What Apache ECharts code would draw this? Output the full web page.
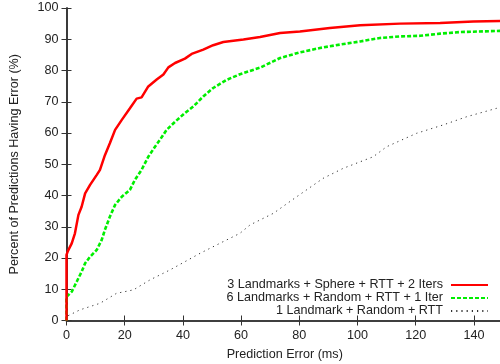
<!DOCTYPE html>
<html>
<head>
<meta charset="utf-8">
<script src="https://cdn.jsdelivr.net/npm/echarts@6/dist/echarts.min.js"></script>
<style>html,body{margin:0;padding:0;background:#fff;}#c{width:500px;height:364px;}</style>
</head>
<body>
<div id="c"></div>
<script>
const seriesNames = ['3 Landmarks + Sphere + RTT + 2 Iters', '6 Landmarks + Random + RTT + 1 Iter', '1 Landmark + Random + RTT'];
const xTicks = [0, 20, 40, 60, 80, 100, 120, 140];
const yTicks = [0, 10, 20, 30, 40, 50, 60, 70, 80, 90, 100];

const redX = [0, 0, 0.5, 1.8, 2.9, 4.1, 5.2, 6.4, 8.1, 10.4, 11.5, 13.2, 14.9, 16.7, 19, 21.8, 24.1, 25.8, 28.1, 31, 33.3, 35, 37.3, 40.7, 43, 47, 50.4, 53.9, 60.8, 66.5, 73.4, 80.2, 90.5, 100.9, 114.6, 128.4, 139.8, 150];
const redY = [0, 21, 22.3, 24.7, 27.9, 33.8, 36.4, 40.7, 43.4, 46.6, 48.2, 52.9, 56.7, 61, 64.2, 67.9, 71, 71.4, 74.9, 77.1, 78.7, 81, 82.4, 83.8, 85.3, 86.7, 88.1, 89.1, 89.9, 90.7, 92, 92.5, 93.6, 94.5, 95, 95.2, 95.7, 95.9];

const greenX = [0, 0, 1.8, 3.5, 5.2, 6.4, 8.1, 10.4, 12.1, 13.2, 14.9, 16.7, 19, 21.8, 23.5, 25.8, 28.1, 30.4, 32.1, 34.4, 37.3, 40.7, 43.6, 47, 50.4, 55, 59.6, 66.5, 73.4, 80.2, 87.1, 94, 100.9, 107.7, 114.6, 121.5, 128.4, 135.2, 150];
const greenY = [0, 7.6, 9.2, 12.4, 15.6, 18.3, 20.4, 22.6, 25.8, 29, 33.2, 37, 39.6, 41.8, 45, 48.2, 52.4, 55.6, 57.8, 61, 63.6, 66.4, 68.5, 71.7, 74.4, 77, 78.8, 80.9, 84, 85.8, 87.2, 88.3, 89.3, 90.4, 90.9, 91.1, 91.8, 92.3, 92.7];

const blackX = [0, 0.5, 4.6, 11.5, 17.2, 23, 28.7, 35.6, 45.9, 52.7, 59.6, 63.1, 71.1, 79.1, 88.2, 95.1, 105.4, 110, 120.3, 129.5, 137.5, 147.8, 150];
const blackY = [0, 1.5, 3.4, 5.5, 8.7, 9.8, 13, 16.2, 21.5, 24.7, 27.9, 30.6, 34.3, 39.6, 45.5, 48.7, 52.4, 55.6, 59.9, 62.6, 65.2, 67.9, 68.3];

const zip = (xs, ys) => xs.map((x, i) => [x, ys[i]]);
const FONT = 'Liberation Sans, Arial, sans-serif';
const FS = 12.6;
const TXT = '#222';
const AX = '#333';

const chart = echarts.init(document.getElementById('c'), null, {renderer: 'canvas'});

const axisLineStyle = {show: true, lineStyle: {color: AX, width: 1.6}};
const tickStyle = {show: true, inside: true, length: 5, lineStyle: {color: AX, width: 1}};

function legendFor(name, top) {
  return {
    data: [name], right: 11, top: top, orient: 'vertical', align: 'right',
    itemWidth: 37, itemHeight: 10, padding: 0, selectedMode: false,
    itemStyle: {opacity: 0},
    textStyle: {fontFamily: FONT, fontSize: FS, color: TXT, padding: [0, 3, 0, 0]}
  };
}

chart.setOption({
  animation: false,
  backgroundColor: '#fff',
  grid: {left: 66.5, right: -3, top: 8, bottom: 43.5, containLabel: false, outerBoundsMode: 'none'},
  xAxis: [{
    type: 'value', min: xTicks[0], max: 150, interval: 20, position: 'bottom',
    name: 'Prediction Error (ms)', nameLocation: 'middle', nameGap: 28,
    nameTextStyle: {fontFamily: FONT, fontSize: FS, color: TXT},
    axisLine: axisLineStyle, axisTick: tickStyle, splitLine: {show: false},
    axisLabel: {fontFamily: FONT, fontSize: FS, color: TXT, margin: 9, showMaxLabel: false,
      formatter: v => xTicks.indexOf(v) >= 0 ? String(v) : ''}
  }, {
    type: 'value', min: xTicks[0], max: 150, interval: 20, position: 'top',
    axisLine: axisLineStyle, axisTick: tickStyle, axisLabel: {show: false}, splitLine: {show: false}
  }],
  yAxis: [{
    type: 'value', min: yTicks[0], max: 100, interval: 10, position: 'left',
    name: 'Percent of Predictions Having Error (%)', nameLocation: 'middle', nameGap: 45,
    nameTextStyle: {fontFamily: FONT, fontSize: FS, color: TXT},
    axisLine: axisLineStyle, axisTick: tickStyle, splitLine: {show: false},
    axisLabel: {fontFamily: FONT, fontSize: FS, color: TXT, margin: 8}
  }, {
    type: 'value', min: yTicks[0], max: 100, interval: 10, position: 'right',
    axisLine: axisLineStyle, axisTick: tickStyle, axisLabel: {show: false}, splitLine: {show: false}
  }],
  legend: [legendFor(seriesNames[0], 278.5), legendFor(seriesNames[1], 291.5), legendFor(seriesNames[2], 304.5)],
  series: [{
    name: seriesNames[0], type: 'line', data: zip(redX, redY), symbol: 'none', showSymbol: false,
    lineStyle: {color: '#ff0000', width: 2.5}, itemStyle: {color: '#ff0000'}, z: 4
  }, {
    name: seriesNames[1], type: 'line', data: zip(greenX, greenY), symbol: 'none', showSymbol: false,
    lineStyle: {color: '#00ee00', width: 2.6, type: [4, 2]}, itemStyle: {color: '#00ee00'}, z: 3
  }, {
    name: seriesNames[2], type: 'line', data: zip(blackX, blackY), symbol: 'none', showSymbol: false,
    lineStyle: {color: '#333', width: 1, type: [1.2, 4]}, itemStyle: {color: '#333'}, z: 2
  }]
});
</script>
</body>
</html>
